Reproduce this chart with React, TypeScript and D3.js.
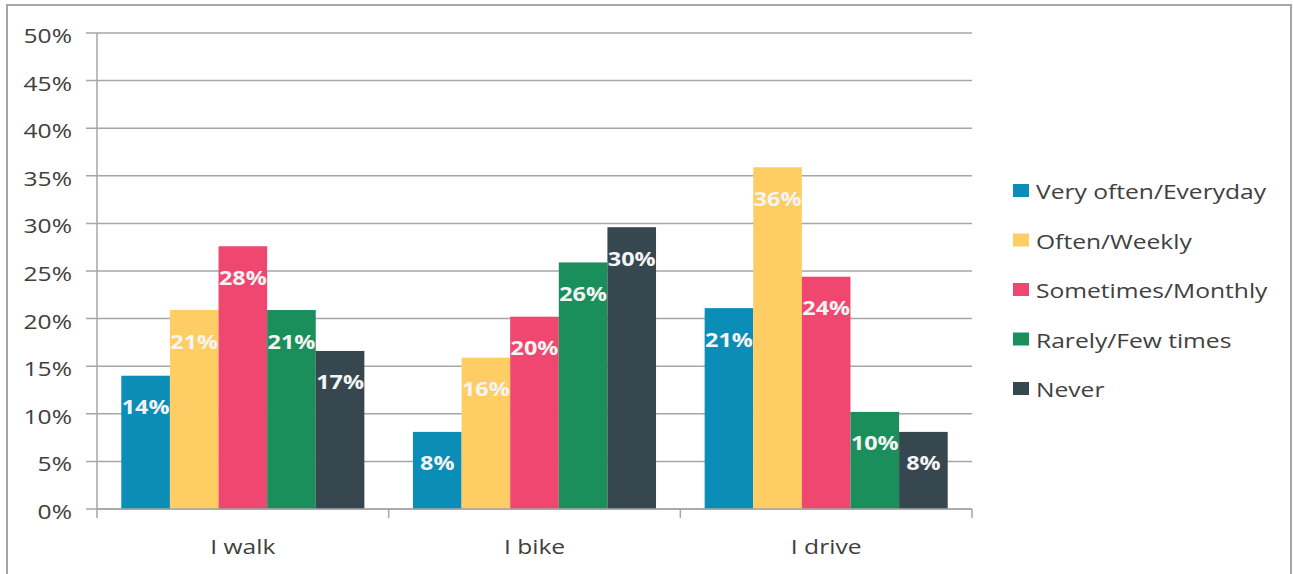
import React from "react";
import * as d3 from "d3";

const categories = ["I walk", "I bike", "I drive"];
const seriesNames = ["Very often/Everyday", "Often/Weekly", "Sometimes/Monthly", "Rarely/Few times", "Never"];
const seriesColors = ["#0A8DB6", "#FECD64", "#EF476F", "#1A8F5C", "#36474F"];
const veryOften = [14.0, 8.1, 21.1];
const oftenWeekly = [20.9, 15.9, 35.9];
const sometimes = [27.6, 20.2, 24.4];
const rarely = [20.9, 25.9, 10.2];
const never = [16.6, 29.6, 8.1];
const seriesValues = [veryOften, oftenWeekly, sometimes, rarely, never];
const yTicks = [0, 5, 10, 15, 20, 25, 30, 35, 40, 45, 50];

const W = 1293;
const H = 574;
const left = 97;
const right = 972;
const top = 33;
const bottom = 509;
const FONT = "'Open Sans', 'Noto Sans', sans-serif";
const SX = 1.2;

function T({ x, y, anchor = "start", size = 20.5, weight = "normal", fill = "#404040", children }: any) {
  return (
    <text
      transform={`translate(${x},${y}) scale(${SX},1)`}
      textAnchor={anchor}
      fontFamily={FONT}
      fontSize={size}
      fontWeight={weight}
      fill={fill}
    >
      {children}
    </text>
  );
}

export default function App() {
  const x = d3.scaleBand<string>().domain(categories).range([left, right]).paddingInner(0).paddingOuter(0);
  const y = d3.scaleLinear().domain([0, 50]).range([bottom, top]);
  const bw = x.bandwidth();
  const inner = d3
    .scaleBand<string>()
    .domain(seriesNames)
    .range([bw / 12, bw - bw / 12]);

  return (
    <svg width={W} height={H} style={{ position: "absolute", left: 0, top: 0, background: "#fff" }}>
      <rect x={7} y={5} width={1284} height={H + 10} fill="#fff" stroke="#a6a6a6" strokeWidth={2} />
      {yTicks.map((t) => (
        <g key={t}>
          <line x1={86} x2={right} y1={y(t)} y2={y(t)} stroke="#a6a6a6" strokeWidth={1.5} />
          <T x={72} y={y(t) + 10} anchor="end">
            {t}%
          </T>
        </g>
      ))}
      <line x1={left} x2={left} y1={top} y2={bottom} stroke="#a6a6a6" strokeWidth={1.5} />
      {[...categories.map((c) => x(c) as number), right].map((px, i) => (
        <line key={i} x1={px} x2={px} y1={bottom} y2={bottom + 9} stroke="#a6a6a6" strokeWidth={1.5} />
      ))}
      {seriesNames.map((s, si) =>
        categories.map((c, ci) => {
          const v = seriesValues[si][ci];
          const bx = (x(c) as number) + (inner(s) as number);
          const by = y(v);
          return (
            <g key={s + c}>
              <rect x={bx} y={by} width={inner.bandwidth()} height={bottom - by} fill={seriesColors[si]} />
              <T x={bx + inner.bandwidth() / 2} y={by + 38.5} anchor="middle" size={19.5} weight="bold" fill="#f4f4f4">
                {Math.round(v)}%
              </T>
            </g>
          );
        })
      )}
      <line x1={left} x2={right} y1={bottom} y2={bottom} stroke="#a6a6a6" strokeWidth={1.5} />
      {categories.map((c) => (
        <T key={c} x={(x(c) as number) + bw / 2} y={554} anchor="middle">
          {c}
        </T>
      ))}
      {seriesNames.map((s, i) => {
        const base = 199 + i * 49.5;
        return (
          <g key={s}>
            <rect x={1013} y={base - 15} width={16} height={13} fill={seriesColors[i]} />
            <T x={1036} y={base}>
              {s}
            </T>
          </g>
        );
      })}
    </svg>
  );
}
